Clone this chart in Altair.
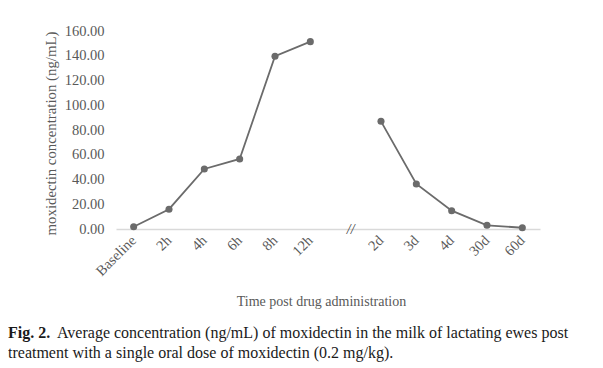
import altair as alt
import pandas as pd

categories = ["Baseline", "2h", "4h", "6h", "8h", "12h", "gap", "2d", "3d", "4d", "30d", "60d"]
early_times = ["Baseline", "2h", "4h", "6h", "8h", "12h"]
early_values = [1.8, 16.0, 48.5, 56.6, 139.6, 151.4]
late_times = ["2d", "3d", "4d", "30d", "60d"]
late_values = [87.0, 36.4, 14.8, 3.0, 1.0]
y_ticks = [0, 20, 40, 60, 80, 100, 120, 140, 160]

caption_bold = "Fig. 2."
caption_line1 = "Average concentration (ng/mL) of moxidectin in the milk of lactating ewes post"
caption_line2 = "treatment with a single oral dose of moxidectin (0.2 mg/kg)."

df = pd.DataFrame({
    "time": early_times + late_times,
    "conc": early_values + late_values,
    "segment": ["early"] * len(early_times) + ["late"] * len(late_times),
})

FONT = "Liberation Serif"
GRAY = "#595959"
LINE = "#6b6b6b"

x_enc = alt.X(
    "time:N",
    sort=categories,
    scale=alt.Scale(domain=categories, paddingInner=0, paddingOuter=0),
    axis=alt.Axis(
        title="Time post drug administration",
        labelAngle=-45, labelAlign="right", labelBaseline="middle",
        labelFont=FONT, labelFontSize=14.5, labelColor=GRAY,
        labelExpr="datum.value == 'gap' ? '' : datum.value",
        labelOverlap=False,
        ticks=False, domainColor="#d9d9d9", domainWidth=1.5,
        labelPadding=9,
        titleFont=FONT, titleFontSize=14, titleColor=GRAY, titleFontWeight="normal",
        titleX=205, titleY=76, titleBaseline="alphabetic",
    ),
)
y_enc = alt.Y(
    "conc:Q",
    scale=alt.Scale(domain=[0, 160], nice=False),
    axis=alt.Axis(
        title="moxidectin concentration (ng/mL)",
        values=y_ticks, format=".2f", labelOverlap=False, labelBound=False,
        labelFont=FONT, labelFontSize=14.5, labelColor=GRAY, labelPadding=12,
        ticks=False, domain=False, grid=False,
        titleFont=FONT, titleFontSize=14.8, titleColor=GRAY, titleFontWeight="normal",
        titleX=-58, titleY=102,
    ),
)

base = alt.Chart(df)
lines = base.mark_line(color=LINE, strokeWidth=1.8).encode(x=x_enc, y=y_enc, detail="segment:N")
points = base.mark_circle(color=LINE, size=50, opacity=1).encode(x=x_enc, y=y_enc)

brk = alt.Chart(pd.DataFrame({"time": ["gap"], "conc": [0], "t": ["//"]})).mark_text(
    font=FONT, fontSize=14, color="#404040", dx=5, dy=1, fontStyle="italic"
).encode(x=x_enc, y=y_enc, text="t:N")

cap_df = pd.DataFrame({"a": [caption_bold], "b": [caption_line1], "c": [caption_line2]})
cap_bold = alt.Chart(cap_df).mark_text(
    font=FONT, fontSize=16, fontWeight="bold", color="#1a1a1a", align="left", baseline="alphabetic"
).encode(x=alt.value(-108), y=alt.value(307), text="a:N")
cap1 = alt.Chart(cap_df).mark_text(
    font=FONT, fontSize=16, color="#1a1a1a", align="left", baseline="alphabetic"
).encode(x=alt.value(-59), y=alt.value(307), text="b:N")
cap2 = alt.Chart(cap_df).mark_text(
    font=FONT, fontSize=16, color="#1a1a1a", align="left", baseline="alphabetic"
).encode(x=alt.value(-108), y=alt.value(327), text="c:N")

chart = alt.layer(lines, points, brk, cap_bold, cap1, cap2).properties(
    width=424, height=198,
    autosize=alt.AutoSizeParams(type="none"),
    padding={"left": 108, "top": 23, "right": 55, "bottom": 140},
).configure(background="white").configure_view(stroke=None, strokeWidth=0).configure_axisY(labelOverlap=False)

chart.save("out.html", embed_options={"renderer": "svg", "actions": False})
